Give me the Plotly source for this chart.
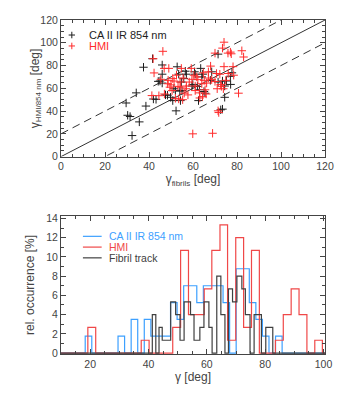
import plotly.graph_objects as go
from plotly.subplots import make_subplots

# scatter: fibril orientation vs. magnetic field azimuth
ca_fibril = [29.6, 30.3, 31.4, 32.3, 34.2, 35.6, 37.5, 38.6, 42.0, 41.6, 43.2, 44.2, 45.0, 46.0, 46.0,
             46.0, 47.5, 48.4, 49.8, 50.8, 51.3, 52.0, 52.3, 52.8, 53.5, 54.3, 54.7, 55.0, 54.0, 55.8,
             56.5, 57.0, 59.5, 59.9, 60.7, 61.0, 62.0, 62.5, 62.9, 63.5, 64.0, 64.4, 65.0, 65.5, 67.9,
             68.5, 71.4, 71.4, 72.6, 73.4, 73.4, 74.4, 74.4, 75.2, 77.1, 77.7, 77.0]
ca_gamma = [47.1, 36.3, 35.2, 18.5, 56.0, 30.5, 78.5, 44.4, 50.6, 86.0, 50.3, 66.1, 66.4, 80.5, 72.4,
            64.6, 54.2, 53.9, 52.1, 49.2, 59.6, 58.1, 40.2, 78.9, 72.4, 49.2, 65.5, 58.0, 57.5, 68.5,
            75.0, 72.4, 62.0, 63.4, 74.5, 72.4, 61.7, 49.2, 58.7, 77.5, 70.0, 72.4, 57.2, 55.7, 67.0,
            74.5, 90.0, 65.5, 41.1, 41.7, 66.4, 52.1, 62.0, 66.4, 63.4, 73.6, 70.6]

hmi_fibril = [41.9, 42.3, 41.3, 46.3, 45.4, 46.9, 48.7, 49.0, 49.5, 50.5, 50.8, 51.4, 52.0, 53.2, 54.1,
              54.4, 54.7, 55.3, 53.5, 56.0, 56.8, 57.7, 58.3, 59.2, 59.5, 59.9, 61.0, 61.7, 62.2, 63.1,
              64.0, 64.3, 64.7, 65.5, 66.2, 67.0, 68.0, 68.5, 68.9, 70.0, 70.7, 71.0, 71.4, 71.7, 72.2,
              72.6, 72.9, 73.4, 74.1, 74.1, 74.9, 75.9, 77.0, 77.4, 78.2, 78.5, 80.7, 82.2, 83.0, 73.8,
              60.4, 52.5, 65.1, 44.5, 47.0, 48.5, 50.0, 55.5, 57.0, 63.0, 66.0, 67.0, 70.0, 76.0, 61.0]
hmi_gamma = [86.0, 73.5, 53.6, 92.5, 67.9, 77.5, 67.0, 77.5, 61.0, 58.0, 68.5, 66.4, 51.2, 61.7, 65.5,
             61.0, 77.5, 50.0, 50.6, 55.7, 59.6, 54.2, 65.5, 77.5, 67.9, 20.0, 58.0, 70.0, 67.6, 51.5,
             64.0, 52.7, 73.6, 58.7, 64.6, 74.5, 79.5, 67.6, 20.5, 90.9, 73.0, 59.6, 40.2, 38.7, 72.4,
             63.4, 61.7, 95.3, 100.5, 79.0, 67.0, 90.9, 91.8, 90.3, 79.0, 71.5, 55.7, 93.0, 87.5, 59.6,
             71.5, 71.5, 67.0, 53.5, 55.0, 64.0, 63.0, 69.0, 62.0, 56.0, 55.0, 69.0, 66.0, 73.0, 62.0]

# reference lines y = x + offset
line_offsets = [0, 20, -20]

# histograms: bin edges and relative occurrence [%]
ca_edges = [18.3, 20.55, 29.55, 31.8, 34.05, 36.3, 38.55, 40.8, 47.55, 49.8, 52.05, 56.55, 58.8,
            65.55, 67.8, 70.05, 74.55, 76.8, 79.05, 81.3, 83.55, 85.8]
ca_occ = [1.75, 0, 1.75, 0, 3.5, 0, 3.5, 1.75, 5.25, 3.5, 7, 5.25, 7, 5.25, 0, 8.77, 5.25, 3.5,
          1.75, 0, 1.75]

hmi_edges = [19.2, 21.9, 37.5, 40.2, 48.3, 51.0, 53.7, 59.1, 61.7, 64.5, 67.1, 69.9, 72.6, 75.3,
             78.0, 83.5, 86.2, 88.9, 91.6, 94.3, 97.0, 99.6]
hmi_occ = [2.67, 0, 1.33, 0, 2.67, 10.67, 4, 6.67, 10.67, 13.33, 1.33, 12, 2.67, 10.67, 0, 1.33,
           4, 6.67, 4, 0, 1.33]

fib_edges = [41.3, 42.5, 43.6, 44.7, 47.6, 49.3, 50.8, 52.2, 54.4, 55.6, 57.6, 59.0, 60.7, 61.8,
             63.4, 64.8, 66.2, 67.4, 68.8, 70.3, 72.0, 73.2, 74.8, 76.2, 78.7, 80.2, 82.6]
fib_occ = [4, 0, 2.67, 1.33, 5.33, 4, 1.33, 5.33, 4, 1.33, 2.67, 5.33, 2.67, 0, 8, 4, 0, 6.67,
           5.33, 8, 6.67, 4, 0, 4, 0, 2.67]

scat_range = [0, 120]
hist_xrange = [10, 100.5]
hist_yrange = [-0.1, 14.25]

BLUE = '#3da0ff'
RED = '#f04848'
GREY = '#404040'
AXC = '#444444'
FONT = 'Liberation Sans'

fig = make_subplots(rows=2, cols=1, vertical_spacing=0.18)

# top panel
for off in line_offsets:
    fig.add_trace(go.Scatter(x=scat_range, y=[v + off for v in scat_range], mode='lines',
                             line=dict(color='#333333', width=1, dash='solid' if off == 0 else '8px,5px'),
                             showlegend=False, hoverinfo='skip'), row=1, col=1)

fig.add_trace(go.Scatter(x=ca_fibril, y=ca_gamma, mode='markers',
                         marker=dict(symbol='cross-thin', size=6, line=dict(color='#1e1e1e', width=1)),
                         showlegend=False), row=1, col=1)
fig.add_trace(go.Scatter(x=hmi_fibril, y=hmi_gamma, mode='markers',
                         marker=dict(symbol='cross-thin', size=6, line=dict(color='#ff2b2b', width=1)),
                         showlegend=False), row=1, col=1)


def step(edges, occ):
    xs = [hist_xrange[0]] + edges + [hist_xrange[1]]
    ys = [0] + occ + [0, 0]
    return xs, ys


for edges, occ, col in [(ca_edges, ca_occ, BLUE), (hmi_edges, hmi_occ, RED), (fib_edges, fib_occ, GREY)]:
    xs, ys = step(edges, occ)
    fig.add_trace(go.Scatter(x=xs, y=ys, mode='lines', line=dict(color=col, width=1.2, shape='hv'),
                             showlegend=False), row=2, col=1)

axis_common = dict(showline=True, linecolor=AXC, linewidth=1, mirror='allticks', ticks='inside',
                   ticklen=5, tickcolor=AXC, showgrid=False, zeroline=False,
                   tickfont=dict(family=FONT, size=10.5, color=AXC),
                   title_font=dict(family=FONT, size=12, color=AXC))

fig.update_xaxes(axis_common)
fig.update_yaxes(axis_common)

minor = dict(ticklen=3, ticks='inside', tickcolor=AXC)
fig.update_xaxes(range=scat_range, dtick=20, minor=dict(minor, dtick=5),
                 title=dict(text='γ<sub><span style="font-size:8px">fibrils</span></sub> [deg]', standoff=3),
                 row=1, col=1)
fig.update_yaxes(range=scat_range, dtick=20, minor=dict(minor, dtick=5),
                 domain=[0.591, 1], row=1, col=1)
fig.update_xaxes(range=hist_xrange, dtick=20, minor=dict(minor, dtick=5),
                 title=dict(text='γ [deg]', standoff=2), row=2, col=1)
fig.update_yaxes(range=hist_yrange, dtick=2, minor=dict(minor, dtick=1),
                 title=dict(text='rel. occurrence [%]', standoff=8), domain=[0, 0.413], row=2, col=1)

shapes = []
annotations = []
# top y title placed by hand (subscript confuses the default standoff)
annotations.append(dict(xref='x domain', yref='y domain', x=-0.095, y=0.5, textangle=-90,
                        xanchor='center', yanchor='middle', showarrow=False,
                        text='γ<sub><span style="font-size:8px">HMI/854 nm</span></sub> [deg]',
                        font=dict(family=FONT, size=12, color=AXC)))
# top legend: crosses + coloured labels
for yy, col, lab in [(0.89, '#1e1e1e', 'CA II IR 854 nm'), (0.81, '#ff2b2b', 'HMI')]:
    shapes.append(dict(type='line', xref='x domain', yref='y domain', x0=0.041 - 0.012, x1=0.041 + 0.012,
                       y0=yy, y1=yy, line=dict(color=col, width=1)))
    shapes.append(dict(type='line', xref='x domain', yref='y domain', x0=0.041, x1=0.041,
                       y0=yy - 0.024, y1=yy + 0.024, line=dict(color=col, width=1)))
    annotations.append(dict(xref='x domain', yref='y domain', x=0.1, y=yy, xanchor='left', yanchor='middle',
                            text=lab, showarrow=False, font=dict(family=FONT, size=11, color=col)))
# bottom legend: line samples + coloured labels
for yy, col, lab in [(0.853, BLUE, 'CA II IR 854 nm'), (0.775, RED, 'HMI'), (0.697, GREY, 'Fibril track')]:
    shapes.append(dict(type='line', xref='x2 domain', yref='y2 domain', x0=0.083, x1=0.154,
                       y0=yy, y1=yy, line=dict(color=col, width=1.2)))
    annotations.append(dict(xref='x2 domain', yref='y2 domain', x=0.176, y=yy, xanchor='left', yanchor='middle',
                            text=lab, showarrow=False, font=dict(family=FONT, size=10.5, color=col)))

fig.update_layout(width=346, height=393, margin=dict(l=61, r=18, t=20, b=39),
                  plot_bgcolor='white', paper_bgcolor='white', showlegend=False,
                  shapes=shapes, annotations=annotations,
                  font=dict(family=FONT, color=AXC))

fig.write_html("out.html", config={'displayModeBar': False},
               post_script="document.body.style.margin='0';")
